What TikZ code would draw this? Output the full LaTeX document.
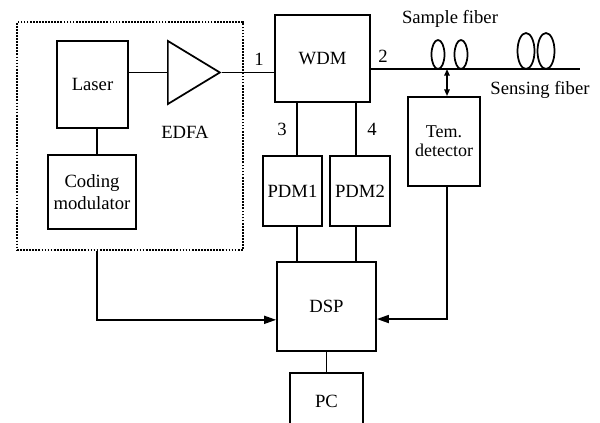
\documentclass[tikz,border=0pt]{standalone}
\usepackage{fontspec}
\setmainfont{Liberation Serif}
\usetikzlibrary{arrows.meta,shapes.geometric}

\tikzset{every picture/.style={line width=1.3pt}}
\tikzset{
  blk/.style={draw, align=center, inner sep=0pt, font=\fontsize{14}{17}\selectfont},
  lbl/.style={font=\fontsize{14}{17}\selectfont},
  sig/.style={-{Triangle[length=9pt,width=6pt]}},
  tap/.style={{Triangle[length=5pt,width=4pt]}-{Triangle[length=5pt,width=4pt]}},
}

\begin{document}
\begin{tikzpicture}[x=0.75pt,y=0.75pt,yscale=-1,xscale=1]
\useasboundingbox (0,0) rectangle (600,423);

% light source
\draw (130,136) node [draw, densely dotted, minimum width=169.5pt, minimum height=171pt] (src) {};
\draw (92.5,84.5) node [blk, minimum width=53.3pt, minimum height=65.3pt] (laser) {Laser};
\draw (92,192) node [blk, minimum width=66pt, minimum height=55.5pt, font=\fontsize{14}{17}\selectfont] (code) {Coding\\modulator};
\draw (167,72.5) node [draw, isosceles triangle, isosceles triangle stretches, minimum width=47.3pt, minimum height=39pt, inner sep=0pt, anchor=lower side] (amp) {};
\draw (185,132) node [lbl] (edfa) {EDFA};

% WDM and receivers
\draw (322.5,58.5) node [blk, minimum width=71.3pt, minimum height=65.3pt] (wdm) {WDM};
\draw (292.5,191) node [blk, minimum width=44.3pt, minimum height=52.5pt] (pdm1) {PDM1};
\draw (360,191) node [blk, minimum width=45pt, minimum height=52.5pt] (pdm2) {PDM2};
\draw (326.5,306.5) node [blk, minimum width=74.3pt, minimum height=66.8pt] (dsp) {DSP};
\draw (326.5,401.5) node [blk, minimum width=54.8pt, minimum height=42.8pt] (pc) {PC};
\draw (444,141.5) node [blk, minimum width=54pt, minimum height=66.8pt, font=\fontsize{13.5}{14.5}\selectfont] (tem) {Tem.\\detector};

% port numbers
\draw (259,59) node [lbl] (p1) {1};
\draw (383,56) node [lbl] (p2) {2};
\draw (282,129) node [lbl] (p3) {3};
\draw (372,129) node [lbl] (p4) {4};

% fibers
\coordinate (fend) at (580,69);
\coordinate (tp) at (447,69);
\draw (wdm.east |- fend) -- (fend);
\draw (438,54.5) ellipse (6.5 and 14.5);
\draw (461,54.5) ellipse (6.5 and 14.5);
\draw (526,51) ellipse (8.5 and 18);
\draw (546,51) ellipse (8.5 and 18);
\draw (450,19) node [lbl] (sample) {Sample fiber};
\draw (540,90) node [lbl] (sensing) {Sensing fiber};

% connections
\draw (laser.east |- amp.lower side) -- (amp.lower side);
\draw (amp.apex) -- (wdm.west |- amp.apex);
\draw (laser.south -| 97,0) -- (code.north -| 97,0);
\draw (wdm.south -| 297,0) -- (pdm1.north -| 297,0);
\draw (wdm.south -| 356,0) -- (pdm2.north -| 356,0);
\draw (pdm1.south -| 297,0) -- (dsp.north -| 297,0);
\draw (pdm2.south -| 356,0) -- (dsp.north -| 356,0);
\draw (dsp.south) -- (pc.north);
\draw [tap] (tp) -- (tem.north -| tp);
\draw [sig] (src.south -| 97,0) |- ([yshift=10pt]dsp.west);
\draw [sig] (tem.south -| tp) |- ([yshift=9.4pt]dsp.east);

\end{tikzpicture}
\end{document}
